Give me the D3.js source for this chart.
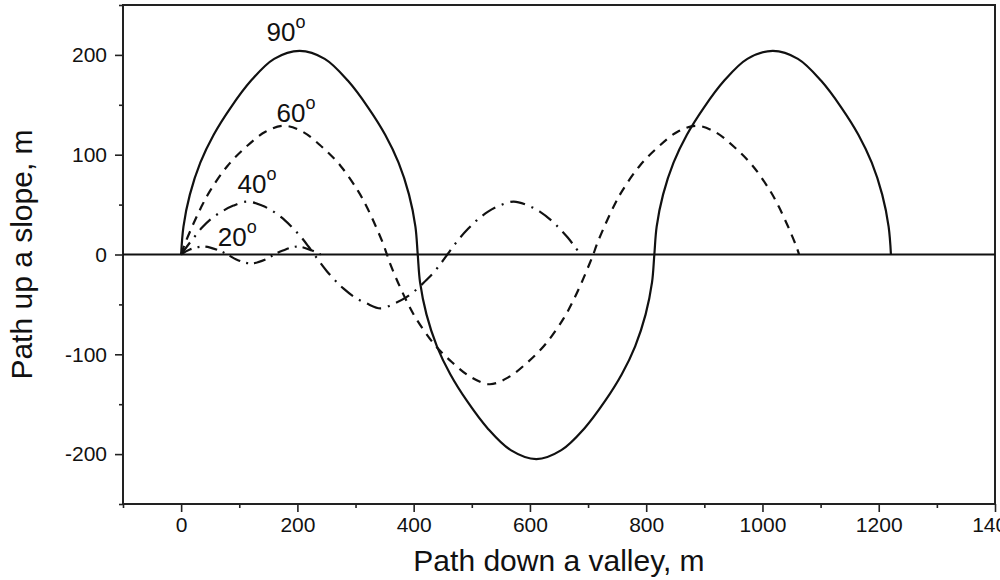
<!DOCTYPE html>
<html>
<head>
<meta charset="utf-8">
<script src="https://cdnjs.cloudflare.com/ajax/libs/d3/7.8.5/d3.min.js"></script>
<style>
    body { margin: 0; background: #fff; }
    svg { display: block; font-family: "Liberation Sans", Arial, sans-serif; }
    .axis line { stroke: #222; stroke-width: 1.6; }
    .axis text { font-size: 21px; fill: #111; }
    .curve { fill: none; stroke: #111; stroke-width: 2.2; }
    .title { font-size: 30px; fill: #111; }
    .angle { font-size: 26px; fill: #111; }
</style>
</head>
<body>
<div id="graph-container"></div>
<script>
// tick values
const xMajor = [0, 200, 400, 600, 800, 1000, 1200, 1400];
const xMinor = [-100, 100, 300, 500, 700, 900, 1100, 1300];
const yMajor = [-200, -100, 0, 100, 200];
const yMinor = [-250, -150, -50, 50, 150, 250];

const angles = ["20", "40", "60", "90"];

// [path down a valley, path up a slope]
const path90 = [
    [0, 0], [4, 28], [15, 60], [33, 92], [56, 120], [85, 147], [120, 174], [160, 196], [204, 204],
    [247, 196], [287, 174], [322, 147], [351, 120], [374, 92], [392, 60], [403, 28], [407, 0],
    [411, -28], [422, -60], [440, -92], [463, -120], [492, -147], [527, -174], [567, -196], [611, -205],
    [654, -196], [694, -174], [729, -147], [758, -120], [781, -92], [799, -60], [810, -28], [814, 0],
    [818, 28], [829, 60], [847, 92], [870, 120], [899, 147], [934, 174], [974, 196], [1018, 204],
    [1061, 196], [1101, 174], [1136, 147], [1165, 120], [1188, 92], [1206, 60], [1217, 28], [1221, 0]
];
const path60 = [
    [0, 0], [6, 10], [19, 28], [35, 48], [50, 64], [80, 89], [112, 108], [145, 123], [177, 129],
    [209, 123], [242, 108], [274, 89], [304, 64], [319, 48], [335, 28], [348, 10], [354, 0],
    [360, -10], [373, -28], [389, -48], [404, -64], [434, -89], [466, -108], [499, -123], [531, -130],
    [563, -123], [596, -108], [628, -89], [658, -64], [673, -48], [689, -28], [702, -10], [709, 0],
    [715, 10], [728, 28], [744, 48], [759, 64], [789, 89], [821, 108], [854, 123], [886, 129],
    [918, 123], [951, 108], [983, 89], [1013, 64], [1028, 48], [1044, 28], [1057, 10], [1063, 0]
];
const path40 = [
    [0, 0], [10, 8], [22, 17], [36, 27], [50, 35], [70, 43], [90, 49], [114, 53],
    [139, 49], [159, 43], [179, 34], [193, 26], [207, 17], [219, 8], [229, 0],
    [239, -8], [251, -17], [265, -26], [279, -34], [299, -43], [319, -49], [343, -54],
    [367, -49], [387, -43], [407, -34], [421, -26], [436, -17], [448, -8], [458, 0],
    [468, 8], [480, 17], [494, 26], [508, 34], [528, 43], [548, 49], [572, 53],
    [597, 49], [617, 43], [637, 34], [651, 26], [665, 17], [677, 8], [687, 0]
];
const path20 = [
    [0, 0], [15, 5], [40, 8], [65, 4], [80, 0], [95, -5], [120, -9], [145, -5],
    [160, 0], [175, 4], [200, 8], [225, 4], [240, 0]
];

const width = 1000, height = 580;
let svg, x, y;

function drawChart() {
    svg = d3.select("#graph-container")
        .append("svg")
        .attr("width", width)
        .attr("height", height)
        .style("overflow", "hidden");

    x = d3.scaleLinear().domain([-100, 1400]).range([123, 995]);
    y = d3.scaleLinear().domain([-250, 250]).range([504, 5]);

    const fmt = d => String(d);

    // minor ticks first, major over them
    svg.append("g").attr("class", "axis")
        .attr("transform", `translate(0,${y(-250)})`)
        .call(d3.axisBottom(x).tickValues(xMinor).tickSize(4).tickFormat(""))
        .call(g => g.select(".domain").remove());
    svg.append("g").attr("class", "axis")
        .attr("transform", `translate(0,${y(-250)})`)
        .call(d3.axisBottom(x).tickValues(xMajor).tickSize(8).tickPadding(5).tickFormat(fmt))
        .call(g => g.select(".domain").remove());

    svg.append("g").attr("class", "axis")
        .attr("transform", `translate(${x(-100)},0)`)
        .call(d3.axisLeft(y).tickValues(yMinor).tickSize(4).tickFormat(""))
        .call(g => g.select(".domain").remove());
    svg.append("g").attr("class", "axis")
        .attr("transform", `translate(${x(-100)},0)`)
        .call(d3.axisLeft(y).tickValues(yMajor).tickSize(8).tickPadding(8).tickFormat(fmt))
        .call(g => g.select(".domain").remove());

    // frame
    svg.append("rect")
        .attr("x", x(-100))
        .attr("y", y(250))
        .attr("width", x(1400) - x(-100))
        .attr("height", y(-250) - y(250))
        .attr("fill", "none")
        .attr("stroke", "#222")
        .attr("stroke-width", 2);

    // zero line
    svg.append("line")
        .attr("x1", x(-100)).attr("x2", x(1400))
        .attr("y1", y(0)).attr("y2", y(0))
        .attr("stroke", "#111")
        .attr("stroke-width", 2);

    const lineGenerator = d3.line()
        .x(d => x(d[0]))
        .y(d => y(d[1]))
        .curve(d3.curveCatmullRom.alpha(0.5));

    const series = { "90": path90, "60": path60, "40": path40, "20": path20 };
    const dashes = { "90": null, "60": "9,7", "40": "15,7,2,7", "20": "12,6,2,6" };

    angles.forEach(a => {
        svg.append("path")
            .attr("class", "curve")
            .attr("d", lineGenerator(series[a]))
            .attr("stroke-dasharray", dashes[a]);
    });

    // angle labels, anchored in data units
    const labelAt = { "90": [147, 214], "60": [164, 133], "40": [97, 62], "20": [63, 9] };
    angles.forEach(a => {
        const t = svg.append("text")
            .attr("class", "angle")
            .attr("x", x(labelAt[a][0]))
            .attr("y", y(labelAt[a][1]))
            .text(a);
        t.append("tspan")
            .attr("font-size", 18)
            .attr("dy", -13)
            .text("o");
    });

    svg.append("text")
        .attr("class", "title")
        .attr("text-anchor", "middle")
        .attr("x", (x(-100) + x(1400)) / 2)
        .attr("y", 571)
        .text("Path down a valley, m");

    svg.append("text")
        .attr("class", "title")
        .attr("text-anchor", "middle")
        .attr("transform", `translate(32,${y(0)}) rotate(-90)`)
        .text("Path up a slope, m");
}

document.addEventListener('DOMContentLoaded', drawChart);
</script>
</body>
</html>
